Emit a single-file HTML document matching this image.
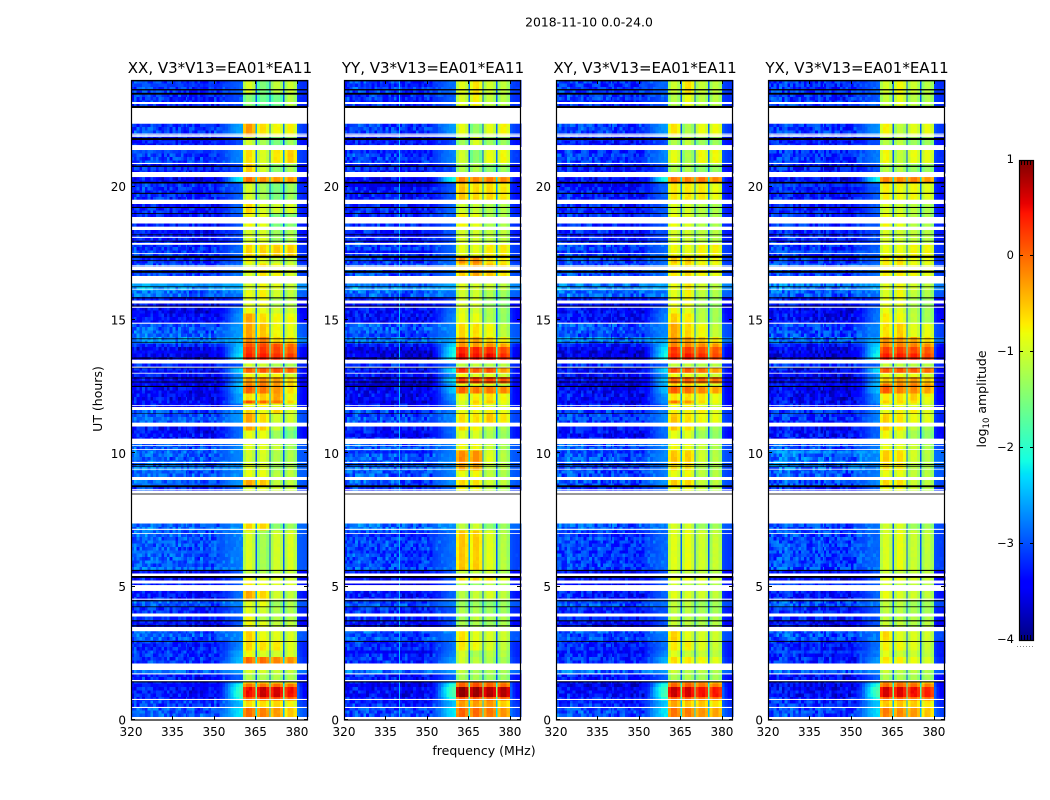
<!DOCTYPE html>
<html>
<head>
<meta charset="utf-8">
<title>2018-11-10 0.0-24.0</title>
<style>
html,body{margin:0;padding:0;background:#fff;width:1050px;height:800px;overflow:hidden}
svg{display:block}
text{font-family:"DejaVu Sans","Liberation Sans",sans-serif;fill:#000}
</style>
</head>
<body>
<svg id="figure" xmlns="http://www.w3.org/2000/svg" width="1050" height="800" viewBox="0 0 1050 800"></svg>
<script>
const panelNames = ['XX', 'YY', 'XY', 'YX'];
const xTickValues = [320, 335, 350, 365, 380];
const yTickValues = [0, 5, 10, 15, 20];
const colorbarTicks = [1, 0, -1, -2, -3, -4];
const channelEdges = [320,321,322,323,324,325,326,327,328,329,330,331,332,333,334,335,336,337,338,339,339.8,340.3,341,342,343,344,345,346,347,348,349,350,351,352,353,354,355,356,357,358,359,360,360.5,361.6,362.7,363.8,365,365.5,366.6,367.7,368.8,370,370.5,371.6,372.7,373.8,375,375.5,376.6,377.7,378.8,380,381,382,383,384];
const blockRanges = [[360.5,365],[365.5,370],[370.5,375],[375.5,380]];
const blockShape = [-0.2,0.05,0.05,-0.15];
const backgroundProfile = [0.05,0.1,0.05,0.1,0.15,0.1,0.15,0.1,0.05,0.1,0.05,0,0.05,0.05,0,0.05,0,0,0.05,0,0,-0.05,0,-0.05,-0.05,0,-0.05,-0.1,-0.05,-0.05,0,-0.05,0,0.05,0,0.05,0.05,0,0.05,0,0.05];
const shoulderRamp = [0.1,0.2,0.35,0.5,0.65,0.78,0.88,0.95,1];
const textureOffsets = [0.12,-0.31,0.27,-0.08,-0.42,0.35,0.05,-0.22,0.41,-0.15,0.18,-0.37,0.09,0.3,-0.27,-0.04,0.22,-0.45,0.38,-0.12,0.02,0.26,-0.33,0.15,-0.19,0.44,-0.06,-0.28,0.11,0.33,-0.4,0.07,-0.17,0.24,-0.02,0.36,-0.25,0.13,-0.35,0.2,0.04,-0.11,0.29,-0.3,0.16,-0.21,0.39,-0.09,-0.38,0.23,0.01,-0.14,0.32,-0.24,0.08,0.19,-0.43,0.28,-0.05,0.14];
const gapHours = [[23.175,23.1],[22.95,22.36],[21.99,21.95],[21.93,21.87],[21.56,21.375],[20.89,20.85],[20.55,20.36],[19.51,19.35],[18.83,18.78],[18.72,18.68],[18.5,18.38],[18.12,18.08],[17.89,17.82],[17.51,17.48],[17.05,17.0],[16.96,16.92],[16.65,16.39],[16.17,16.14],[15.71,15.68],[15.5,15.46],[14.9,14.86],[13.51,13.38],[13.25,13.21],[13.02,12.99],[11.81,11.78],[11.73,11.67],[11.15,11.06],[10.55,10.35],[10.31,10.28],[10.16,10.13],[9.68,9.64],[9.42,9.39],[9.08,9.04],[8.66,8.63],[8.58,8.54],[8.46,7.39],[7.17,7.13],[7.01,6.98],[5.48,5.4],[5.21,5.14],[5.06,4.84],[4.55,4.51],[3.94,3.9],[3.48,3.42],[3.4,3.33],[2.11,1.91],[1.75,1.71],[1.5,1.45],[0.79,0.75],[0.49,0.45],[0.11,0.06]];
const flagHours = [[24,23.95],[23.66,23.61],[23.52,23.45],[23.03,22.95],[21.83,21.75],[20.79,20.74],[20.18,20.12],[19.77,19.73],[19.24,19.2],[19.01,18.98],[18.21,18.18],[17.97,17.94],[17.41,17.33],[17.24,17.21],[16.85,16.77],[16.26,16.23],[15.85,15.81],[15.54,15.51],[14.31,14.28],[14.18,14.15],[13.59,13.55],[13.21,13.19],[12.84,12.81],[12.69,12.66],[12.53,12.49],[11.5,11.48],[9.6,9.56],[9.53,9.5],[8.8,8.73],[8.49,8.46],[5.63,5.59],[5.4,5.33],[4.49,4.45],[4.26,4.23],[3.74,3.7],[3.55,3.51],[2.96,2.93],[1.45,1.41]];
const segmentTopHours = [24,23.48,22.35,21.9,21.38,20.85,20.36,20.18,19.5,18.98,18.49,17.89,17.4,17.18,16.39,16.13,15.83,15.45,15.23,14.89,14.33,14.18,13.95,13.76,13.39,13.2,13.01,12.83,12.68,12.49,12.19,12.0,11.89,11.7,11.48,11.06,10.88,10.35,10.13,9.68,9.41,9.08,8.81,7.39,7.13,5.63,5.4,5.14,4.84,4.5,4.24,3.9,3.71,3.45,3.34,2.96,2.63,2.33,1.91,1.73,1.46,1.39,1.2,0.9,0.75,0.45,0.11];
const xxBlocks = [[-.85,-1.4,-1,-.95],[-1.35,-1.5,-1.5,-1.05],[-.3,-.55,-.7,-.65],[-.9,-1.15,-1.4,-1.2],[-.55,-.85,-.6,-.45],[-.45,-.9,-1.3,-1.15],[-.1,-.25,-.3,-.3],[-.85,-1.15,-1.4,-1.2],[-.5,-.85,-.9,-.85],[-.7,-.8,-1.4,-1.3],[-.85,-.85,-1.2,-1.1],[-.5,-.5,-.45,-.45],[-.7,-.8,-1,-1],[-.85,-.55,-.7,-.85],[-.85,-.7,-.8,-.95],[-.75,-.65,-.9,-1],[-.8,-.7,-1.1,-1.05],[-.7,-.75,-.9,-.9],[-.35,-.55,-.7,-.7],[-.35,-.4,-.7,-.75],[-.2,-.15,-.5,-.6],[.1,.15,.1,-.05],[.25,.25,.15,.05],[.35,.4,.3,.2],[-.9,-.9,-1.1,-1.1],[0,.05,.1,0],[-.7,-.7,-.7,-.85],[-.3,-.2,-.3,-.5],[-.15,-.1,-.3,-.5],[0,-.1,-.25,-.55],[-.55,-.45,-.35,-.7],[.1,-.05,-.1,-.5],[-.7,-.65,-.8,-.9],[-.5,-.75,-.45,-.85],[-.35,-.55,-.9,-.9],[-.35,-.45,-.95,-1.25],[-.75,-.75,-1.2,-1.4],[-.8,-.8,-.95,-1.15],[-.9,-.85,-1.1,-1.1],[-.8,-.85,-1.2,-1.1],[-.75,-.75,-1.05,-1],[-.35,-.4,-1,-1],[-.85,-.8,-.9,-.95],[-.5,-.5,-1.3,-1.2],[-.85,-1.15,-.9,-.85],[-1,-1.1,-1,-.95],[-.7,-.8,-.8,-.9],[-.6,-.75,-.85,-.85],[-.35,-.5,-.9,-1],[-.8,-.75,-1.2,-1.1],[-.8,-.9,-1.1,-1.1],[-.7,-1.1,-1.1,-1.1],[-.7,-.8,-1,-1],[-.9,-.9,-1.1,-1.1],[-.45,-.75,-.8,-.85],[-.5,-.55,-.6,-.8],[-.7,-.85,-.9,-.85],[-.05,-.05,-.2,-.25],[-.85,-.9,-.95,-1],[-1.1,-1.1,-1.1,-1.1],[-.55,-.55,-.6,-.7],[-.1,-.1,-.05,-.1],[.45,.65,.6,.45],[.1,.25,.15,.05],[-.55,-.55,-.5,-.7],[-.05,-.15,-.3,-.4],[-.3,-.3,-.5,-.6]];
const yyBlocks = [[-.8,-.55,-.9,-1],[-.85,-.65,-1,-1.05],[-.75,-1.25,-.8,-.65],[-1.2,-.85,-1.2,-1.2],[-.9,-1.3,-.75,-.7],[-1.1,-1.1,-1.3,-1.2],[-.2,-.2,-.15,-.2],[-.4,-.5,-.5,-.6],[-.9,-.95,-1.1,-1.1],[-.65,-.75,-1.1,-1.1],[-.85,-.9,-1,-1],[-.75,-.75,-.6,-.6],[-.25,-.2,-.55,-.6],[-.45,-.35,-.4,-.55],[-.8,-.85,-.9,-1],[-.9,-.9,-1.1,-1.2],[-.85,-.85,-1.2,-1.3],[-.8,-.9,-1.1,-1.2],[-.75,-.75,-1.1,-1.25],[-.5,-.55,-.7,-1],[-.35,-.35,-.45,-.65],[-.25,-.3,-.25,-.35],[.35,.35,.3,.15],[.45,.45,.5,.3],[-1,-1,-1.05,-1.05],[.25,.05,.1,-.3],[-.7,-.8,-.8,-.9],[.2,.2,.2,.1],[-.75,-.75,-.8,-.95],[0,-.1,-.1,-.2],[-.7,-.65,-.55,-.7],[-.85,-.45,-.4,-.7],[-.85,-.6,-.8,-.85],[-.75,-.7,-.65,-.75],[-.55,-.55,-.4,-.6],[-.5,-.65,-1,-1.1],[-.8,-.85,-1.1,-1.2],[-.7,-.7,-.95,-1.15],[-.2,-.2,-.8,-1.05],[-.35,-.35,-1,-1.05],[-.75,-.7,-1,-1.1],[-.5,-.55,-.9,-1],[-.7,-.7,-1,-1.1],[-1,-.9,-1.3,-1.2],[-.4,-.45,-.8,-1.05],[-.95,-1,-.95,-1.1],[-.55,-.55,-.6,-.8],[-1,-1.2,-1,-1.1],[-1.05,-.95,-.85,-1],[-1.2,-1.2,-1.3,-1.2],[-1.1,-1.1,-1.2,-1.2],[-1.2,-1,-1.1,-1.1],[-1.1,-1.1,-1.2,-1.1],[-1.1,-1.2,-1.2,-1.1],[-.55,-.8,-.85,-.9],[-.6,-.7,-.85,-1],[-.85,-1.1,-1,-1.05],[-.9,-1,-1.1,-1.15],[-1,-1.15,-1.1,-1.15],[-1.15,-1.15,-1.2,-1.2],[-.1,0,-.1,-.3],[.05,.15,.05,0],[.9,.85,.75,.75],[.1,.1,.05,.05],[-.3,-.3,-.25,-.45],[0,-.05,-.1,-.25],[-.3,-.3,-.4,-.5]];
const xyBlocks = [[-.95,-.55,-.95,-1],[-1.1,-.75,-1.05,-1.05],[-.55,-1.1,-.75,-.7],[-1.1,-1,-1.2,-1.2],[-.75,-1.1,-.7,-.7],[-1.1,-1.1,-1.25,-1.2],[-.1,-.15,-.1,-.2],[-.6,-.6,-.6,-.75],[-.85,-.9,-1.05,-1.1],[-.7,-.8,-1.05,-1.1],[-.85,-.9,-1,-1.05],[-.7,-.75,-.65,-.65],[-.45,-.45,-.7,-.7],[-.6,-.55,-.65,-.75],[-.75,-.6,-.85,-1],[-.8,-.65,-1,-1.1],[-.75,-.7,-1.1,-1.2],[-.7,-.8,-1.05,-1.15],[-.45,-.6,-1,-1.15],[-.35,-.5,-.7,-.95],[-.25,-.3,-.4,-.6],[-.15,-.2,-.2,-.3],[.25,.25,.15,.05],[.35,.4,.3,.15],[-.95,-1,-1.05,-1.05],[.1,.05,-.05,-.3],[-.7,-.75,-.8,-.9],[0,.05,0,-.05],[-.5,-.5,-.7,-.85],[.05,-.05,-.2,-.35],[-.6,-.55,-.6,-.75],[-.1,-.3,-.5,-.7],[-.75,-.65,-.85,-.9],[-.65,-.7,-.65,-.8],[-.4,-.55,-.7,-.75],[-.4,-.55,-1,-1.15],[-.75,-.8,-1.15,-1.25],[-.7,-.75,-.95,-1.1],[-.4,-.45,-.9,-1.05],[-.55,-.55,-1.05,-1.1],[-.75,-.7,-1,-1.05],[-.45,-.5,-.95,-1],[-.75,-.75,-.95,-1.05],[-.85,-.85,-1.2,-1.15],[-.8,-.75,-.9,-.95],[-.95,-1,-1,-1.05],[-.75,-.75,-.8,-.9],[-.9,-1,-.95,-1.05],[-.8,-.85,-.9,-1],[-1,-1,-1.2,-1.15],[-1,-1.05,-1.15,-1.15],[-1,-1.05,-1.1,-1.1],[-.95,-1,-1.1,-1.05],[-1,-1.05,-1.15,-1.1],[-.45,-.8,-.85,-.9],[-.6,-.65,-.8,-.95],[-.8,-.95,-.95,-1],[-.55,-.6,-.7,-.8],[-.95,-1.05,-1.05,-1.1],[-1.1,-1.1,-1.15,-1.15],[-.2,-.15,-.25,-.4],[0,.05,-.05,-.1],[.65,.6,.45,.4],[.05,.05,-.05,-.05],[-.35,-.4,-.4,-.55],[-.1,-.15,-.25,-.35],[-.35,-.35,-.45,-.55]];
const yxBlocks = [[-.9,-.7,-.95,-1.05],[-1,-.8,-1.05,-1.1],[-.65,-1,-.8,-.75],[-1.05,-1,-1.2,-1.2],[-.7,-1,-.75,-.75],[-1.05,-1.05,-1.25,-1.2],[-.15,-.2,-.15,-.25],[-.65,-.7,-.7,-.8],[-.85,-.9,-1.05,-1.1],[-.7,-.8,-1.05,-1.1],[-.85,-.9,-1,-1.05],[-.75,-.75,-.7,-.7],[-.6,-.55,-.75,-.75],[-.65,-.6,-.7,-.8],[-.8,-.7,-.9,-1],[-.85,-.7,-1,-1.1],[-.75,-.75,-1.1,-1.2],[-.75,-.8,-1.05,-1.15],[-.6,-.7,-1,-1.15],[-.55,-.45,-.8,-.75],[-.25,-.25,-.35,-.55],[-.15,-.15,-.15,-.25],[.2,.2,.15,.05],[.4,.4,.35,.2],[-.95,-1,-1.05,-1.05],[.05,.1,.05,-.05],[-.7,-.75,-.75,-.85],[-.4,-.3,-.3,-.4],[-.1,-.2,-.15,-.3],[.05,-.15,-.2,-.35],[-.65,-.55,-.45,-.7],[-.45,-.5,-.6,-.75],[-.8,-.7,-.85,-.9],[-.75,-.7,-.65,-.8],[-.45,-.6,-.75,-.8],[-.4,-.6,-1,-1.15],[-.7,-.8,-1.15,-1.25],[-.75,-.8,-.95,-1.1],[-.45,-.55,-.9,-1.05],[-.6,-.6,-1.05,-1.1],[-.75,-.75,-1,-1.05],[-.5,-.55,-.95,-1],[-.75,-.75,-.95,-1.05],[-.9,-.85,-1.2,-1.15],[-.85,-.75,-.95,-1],[-.95,-1,-1,-1.05],[-.75,-.75,-.85,-.9],[-.9,-1,-1,-1.05],[-.75,-.85,-.9,-1],[-1,-1,-1.2,-1.15],[-1,-1.05,-1.15,-1.15],[-1,-1.05,-1.1,-1.1],[-.95,-1,-1.1,-1.05],[-1,-1.05,-1.15,-1.1],[-.5,-.8,-.85,-.9],[-.65,-.7,-.8,-.95],[-.8,-.95,-.95,-1],[-.6,-.65,-.75,-.85],[-.95,-1.05,-1.05,-1.1],[-1.1,-1.1,-1.15,-1.15],[-.25,-.2,-.3,-.45],[-.05,0,-.05,-.15],[.6,.55,.45,.35],[.05,.05,-.05,-.05],[-.4,-.4,-.45,-.6],[-.15,-.2,-.3,-.4],[-.4,-.4,-.5,-.6]];
const xxFloor = [-3.05,-3.1,-3,-3.2,-3,-3.2,-3.35,-3.1,-3.15,-3.15,-3.2,-3.05,-3.1,-2.95,-2.55,-2.8,-3.3,-3.35,-3.3,-2.85,-2.6,-3.1,-3.35,-3.4,-3.1,-3.3,-3.25,-3.4,-3.4,-3.3,-3.3,-3.3,-3.2,-2.9,-2.9,-3.25,-3.25,-2.85,-2.85,-2.8,-2.8,-2.85,-3.1,-2.75,-2.85,-3.3,-3.3,-3.2,-3.2,-2.85,-3.1,-3.2,-3.3,-3,-2.85,-3.1,-3.1,-3.05,-2.7,-3.2,-3.2,-3.3,-3.25,-3.2,-3,-2.85,-2.85];
const yyFloor = [-3,-3.05,-3,-3.2,-3,-3.2,-3.3,-3.2,-3.15,-3.05,-3.15,-3,-3,-2.9,-2.6,-2.8,-3.3,-3.25,-3.25,-2.85,-2.7,-3.2,-3.4,-3.45,-3.1,-3.3,-3.25,-3.4,-3.35,-3.35,-3.3,-3.3,-3.2,-2.95,-2.95,-3.2,-3.2,-2.85,-2.85,-2.85,-2.85,-2.85,-3.1,-2.75,-2.95,-3.3,-3.3,-3.2,-3.2,-2.85,-3.1,-3.2,-3.3,-3,-2.85,-3.1,-3.1,-3.05,-2.75,-3.2,-3.2,-3.3,-3.3,-3.2,-3.05,-2.95,-2.95];
const xyFloor = [-3,-3.05,-3,-3.2,-3,-3.2,-3.3,-3.2,-3.15,-3.1,-3.15,-3,-3,-2.95,-2.6,-2.8,-3.3,-3.3,-3.25,-2.9,-2.7,-3.2,-3.4,-3.45,-3.1,-3.3,-3.3,-3.4,-3.35,-3.35,-3.3,-3.3,-3.25,-3,-3,-3.2,-3.25,-2.9,-2.9,-2.95,-2.95,-2.9,-3.1,-2.85,-3,-3.3,-3.3,-3.2,-3.2,-2.9,-3.15,-3.2,-3.3,-3.05,-2.9,-3.15,-3.15,-3.1,-2.8,-3.2,-3.25,-3.35,-3.3,-3.2,-3.05,-2.95,-2.95];
const yxFloor = [-3.05,-3.05,-3,-3.2,-3.05,-3.2,-3.3,-3.2,-3.2,-3.1,-3.15,-3.05,-3.05,-2.95,-2.65,-2.85,-3.3,-3.35,-3.3,-2.95,-2.75,-3.25,-3.4,-3.45,-3.1,-3.35,-3.3,-3.45,-3.4,-3.4,-3.35,-3.3,-3.25,-3.05,-3.1,-3.25,-3.25,-2.9,-2.75,-2.8,-2.85,-2.9,-3.1,-2.9,-2.95,-3.3,-3.3,-3.2,-3.2,-2.9,-3.15,-3.2,-3.3,-3.05,-2.9,-3.15,-3.15,-3.1,-2.85,-3.25,-3.25,-3.35,-3.3,-3.2,-3.1,-2.95,-2.95];
const xxShoulder = [-2.9,-3,-2.55,-3,-2.7,-3,-2.1,-2.9,-2.85,-2.95,-3,-2.85,-2.9,-2.8,-2.5,-2.8,-3.1,-2.7,-2.6,-2.6,-2.5,-2.4,-2.3,-2.15,-2.9,-2.3,-2.6,-2.5,-2.3,-2.4,-2.55,-2.5,-2.8,-2.7,-2.6,-2.8,-2.8,-2.7,-2.7,-2.7,-2.7,-2.6,-2.8,-2.7,-2.75,-2.9,-2.9,-2.9,-2.8,-2.7,-2.9,-2.9,-2.9,-2.8,-2.7,-2.7,-2.5,-2.4,-2.6,-2.9,-2.5,-2,-1.85,-2,-2.4,-2.2,-2.4];
const yyShoulder = [-2.8,-2.9,-2.6,-3,-2.7,-3,-2.05,-2.9,-2.85,-2.9,-2.95,-2.85,-2.85,-2.8,-2.5,-2.8,-3.1,-2.8,-2.7,-2.7,-2.5,-2.3,-2.1,-2,-2.85,-2.2,-2.6,-2.2,-2.5,-2.35,-2.6,-2.7,-2.8,-2.75,-2.7,-2.8,-2.8,-2.7,-2.7,-2.7,-2.7,-2.65,-2.8,-2.7,-2.8,-2.9,-2.9,-2.9,-2.85,-2.75,-2.95,-2.95,-2.95,-2.85,-2.75,-2.8,-2.7,-2.6,-2.6,-2.9,-2.4,-1.9,-1.7,-2,-2.4,-2.2,-2.4];
const xyShoulder = [-2.85,-2.95,-2.6,-3,-2.7,-3,-2.05,-2.85,-2.9,-2.95,-3,-2.85,-2.85,-2.8,-2.55,-2.85,-3.1,-2.8,-2.7,-2.7,-2.5,-2.35,-2.15,-2.05,-2.9,-2.25,-2.6,-2.35,-2.45,-2.4,-2.6,-2.6,-2.8,-2.75,-2.7,-2.8,-2.8,-2.7,-2.7,-2.75,-2.75,-2.65,-2.85,-2.8,-2.85,-2.95,-2.95,-2.95,-2.85,-2.8,-2.95,-2.95,-2.95,-2.9,-2.75,-2.8,-2.7,-2.5,-2.6,-2.9,-2.4,-1.95,-1.75,-2,-2.35,-2.2,-2.4];
const yxShoulder = [-2.9,-2.95,-2.65,-3,-2.75,-3,-2.1,-2.9,-2.9,-2.95,-3,-2.9,-2.9,-2.8,-2.55,-2.85,-3.1,-2.8,-2.75,-2.7,-2.5,-2.3,-2.15,-2.05,-2.9,-2.25,-2.6,-2.5,-2.4,-2.4,-2.6,-2.65,-2.8,-2.75,-2.7,-2.85,-2.85,-2.75,-2.7,-2.75,-2.75,-2.7,-2.85,-2.8,-2.85,-2.95,-2.95,-2.95,-2.85,-2.8,-2.95,-2.95,-2.95,-2.9,-2.8,-2.8,-2.75,-2.6,-2.65,-2.9,-2.4,-1.95,-1.75,-2,-2.4,-2.25,-2.4];
const panelBlocks = [xxBlocks, yyBlocks, xyBlocks, yxBlocks];
const panelFloors = [xxFloor, yyFloor, xyFloor, yxFloor];
const panelShoulders = [xxShoulder, yyShoulder, xyShoulder, yxShoulder];
const interferenceMHz = [null, 339.8, null, null];

const NS = 'http://www.w3.org/2000/svg';
const fig = document.getElementById('figure');
const AX_LEFT = [131, 344, 556, 768], AX_W = 177, AX_TOP = 80, AX_H = 640;
const FLOOR_BIAS = -0.12, TEXTURE_GAIN = 0.8, DIM_BLOCK_BIAS = -0.12;
const xScale = (mhz, left) => left + (mhz - 320) / 64 * AX_W;
const yScale = h => AX_TOP + (24 - h) / 24 * AX_H;
const ROW_HOURS = 0.125;

function lerp(t, a, b, ya, yb) { return ya + (yb - ya) * (t - a) / (b - a); }
function jet(t) {
  t = Math.max(0, Math.min(1, t));
  let r = t < .35 ? 0 : t < .66 ? lerp(t, .35, .66, 0, 1) : t < .89 ? 1 : lerp(t, .89, 1, 1, .5);
  let g = t < .125 ? 0 : t < .375 ? lerp(t, .125, .375, 0, 1) : t < .64 ? 1 : t < .91 ? lerp(t, .64, .91, 1, 0) : 0;
  let b = t < .11 ? lerp(t, 0, .11, .5, 1) : t < .34 ? 1 : t < .65 ? lerp(t, .34, .65, 1, 0) : 0;
  return 'rgb(' + Math.round(r * 255) + ',' + Math.round(g * 255) + ',' + Math.round(b * 255) + ')';
}
const colorOf = v => jet((v + 4) / 5);
function make(tag, attrs, parent) {
  const el = document.createElementNS(NS, tag);
  for (const k in attrs) el.setAttribute(k, attrs[k]);
  (parent || fig).appendChild(el);
  return el;
}
function segmentIndex(h) {
  let idx = 0;
  for (let i = 0; i < segmentTopHours.length; i++) if (segmentTopHours[i] >= h) idx = i;
  return idx;
}
function insideGap(h) { return gapHours.some(g => h <= g[0] && h >= g[1]); }
function blockLevel(v) { return v < -0.35 ? v + DIM_BLOCK_BIAS : v; }
function cellValue(p, seg, row, col, f) {
  const blocks = panelBlocks[p][seg], floor = panelFloors[p][seg] + FLOOR_BIAS, shoulder = panelShoulders[p][seg];
  const texture = textureOffsets[(row * row * 3 + col * col * 5 + row * col * 7 + p * 11) % textureOffsets.length] * TEXTURE_GAIN;
  for (let b = 0; b < 4; b++) {
    if (f >= blockRanges[b][0] && f < blockRanges[b][1]) {
      const sub = Math.min(3, Math.floor((f - blockRanges[b][0]) / 1.1));
      return blockLevel(blocks[b]) + blockShape[sub] + texture * 0.12;
    }
  }
  if (f >= 365 && f < 365.5) return Math.max(-2.95, (blocks[0] + blocks[1]) / 2 - 2.1);
  if (f >= 370 && f < 370.5) return Math.max(-2.95, (blocks[1] + blocks[2]) / 2 - 2.1);
  if (f >= 375 && f < 375.5) return Math.max(-2.95, (blocks[2] + blocks[3]) / 2 - 2.1);
  if (f >= 380) {
    const near = f < 381 ? 0.3 : f < 382 ? 0.12 : 0;
    const base = floor - 0.1 + texture * 0.5;
    return Math.max(base, floor + (shoulder - floor) * near);
  }
  const chan = Math.floor(f - 320);
  if (interferenceMHz[p] !== null && f >= interferenceMHz[p] && f < interferenceMHz[p] + 0.5) return -2.45;
  const base = floor + backgroundProfile[chan] + texture;
  if (chan >= 32) {
    const s = floor + (shoulder - floor) * shoulderRamp[chan - 32];
    return Math.max(base, s + texture * 0.15);
  }
  return base;
}

panelNames.forEach(function (name, p) {
  const left = AX_LEFT[p];
  const group = make('g', { 'shape-rendering': 'crispEdges' });
  
  
  const rowCount = Math.round(24 / ROW_HOURS);
  for (let r = 0; r < rowCount; r++) {
    const hBot = r * ROW_HOURS, hTop = hBot + ROW_HOURS, mid = (hBot + hTop) / 2;
    if (insideGap(mid)) continue;
    const seg = segmentIndex(mid);
    for (let c = 0; c < channelEdges.length - 1; c++) {
      const f0 = channelEdges[c], f1 = channelEdges[c + 1];
      const x0 = xScale(f0, left), x1 = xScale(f1, left);
      const cell = make('rect', { x: x0.toFixed(2), y: yScale(hTop).toFixed(2), width: (x1 - x0 + 0.3).toFixed(2), height: (yScale(hBot) - yScale(hTop) + 0.3).toFixed(2), fill: colorOf(cellValue(p, seg, r, c, f0)) }, group);
      
      
    }
  }
  gapHours.forEach(function (g) {
    const gap = make('rect', { x: left, y: yScale(g[0]).toFixed(2), width: AX_W, height: (yScale(g[1]) - yScale(g[0])).toFixed(2), fill: '#fff' });
    
    
  });
  flagHours.forEach(function (g) {
    const flag = make('rect', { x: left, y: yScale(g[0]).toFixed(2), width: AX_W, height: (yScale(g[1]) - yScale(g[0])).toFixed(2), fill: '#000' });
    
    
  });
  const frame = make('rect', { x: left + 0.5, y: AX_TOP + 0.5, width: AX_W - 1, height: AX_H - 0.5, fill: 'none', stroke: '#000', 'stroke-width': 1.2 });
  
  

  xTickValues.forEach(function (v) {
    const x = Math.round(xScale(v, left)) + 0.5;
    const tb = make('line', { x1: x, x2: x, y1: AX_TOP + AX_H, y2: AX_TOP + AX_H - 4, stroke: '#000' });
    
    
    const tt = make('line', { x1: x, x2: x, y1: AX_TOP, y2: AX_TOP + 4, stroke: '#000' });
    
    
    const lab = make('text', { x: xScale(v, left), y: 736, 'font-size': 12, 'text-anchor': 'middle' });
    lab.textContent = v;
    
    
  });
  yTickValues.forEach(function (v) {
    const y = Math.round(yScale(v)) - 0.5;
    const tl = make('line', { x1: left, x2: left + 4, y1: y, y2: y, stroke: '#000' });
    
    
    const tr = make('line', { x1: left + AX_W, x2: left + AX_W - 4, y1: y, y2: y, stroke: '#000' });
    
    
    const lab = make('text', { x: left - 5, y: yScale(v) + 4.5, 'font-size': 12, 'text-anchor': 'end' });
    lab.textContent = v;
    
    
  });
  const title = make('text', { x: left + AX_W / 2 + 0.5, y: 73, 'font-size': 15, 'text-anchor': 'middle' });
  title.textContent = name + ', V3*V13=EA01*EA11';
  
  
});

const CB_X = 1019, CB_W = 15, CB_TOP = 160, CB_H = 480;
const cbScale = v => CB_TOP + (1 - v) / 5 * CB_H;
const cbGroup = make('g', { 'shape-rendering': 'crispEdges' });


for (let i = 0; i < 240; i++) {
  const v = -4 + (i + 0.5) / 240 * 5;
  const sw = make('rect', { x: CB_X, y: (cbScale(v) - 1).toFixed(2), width: CB_W, height: 2.3, fill: colorOf(v) }, cbGroup);
  
  
}
const cbFrame = make('rect', { x: CB_X + 0.5, y: CB_TOP + 0.5, width: CB_W - 1, height: CB_H, fill: 'none', stroke: '#000', 'stroke-width': 1.2 });


colorbarTicks.forEach(function (v) {
  if (v > -4 && v < 1) {
    const y = Math.round(cbScale(v)) - 0.5;
    [[CB_X, CB_X + 4], [CB_X + CB_W, CB_X + CB_W - 4]].forEach(function (pair) {
      const t = make('line', { x1: pair[0], x2: pair[1], y1: y, y2: y, stroke: '#000' });
      
      
    });
  }
  const lab = make('text', { x: 1014, y: cbScale(v) + 3, 'font-size': 11.5, 'text-anchor': 'end' });
  lab.textContent = v < 0 ? '\u2212' + Math.abs(v) : String(v);
  
  
});
[1021, 1024, 1027, 1030, 1033].forEach(function (x) {
  const top = make('line', { x1: x + 0.5, x2: x + 0.5, y1: CB_TOP, y2: CB_TOP + 5, stroke: '#000' });
  
  
  const bot = make('line', { x1: x + 0.5, x2: x + 0.5, y1: CB_TOP + CB_H, y2: CB_TOP + CB_H - 5, stroke: '#000' });
  
  
});
const dots = make('line', { x1: 1017, x2: 1035, y1: 646.5, y2: 646.5, stroke: '#888', 'stroke-width': 1, 'stroke-dasharray': '1 2' });


</script>
<script>
(function () {
  const svg = document.getElementById('figure');
  svg.insertAdjacentHTML('beforeend',
    '<text x="589" y="26.5" font-size="12.4" text-anchor="middle">2018-11-10 0.0-24.0</text>' +
    '<text x="484" y="755" font-size="12.5" text-anchor="middle">frequency (MHz)</text>' +
    '<text x="0" y="0" font-size="12.5" text-anchor="middle" transform="translate(102,399) rotate(-90)">UT (hours)</text>' +
    '<text x="0" y="0" font-size="12.5" text-anchor="middle" transform="translate(986,399) rotate(-90)">log<tspan font-size="8.5" dy="3">10</tspan><tspan dy="-3"> amplitude</tspan></text>');
})();
</script>
</body>
</html>
